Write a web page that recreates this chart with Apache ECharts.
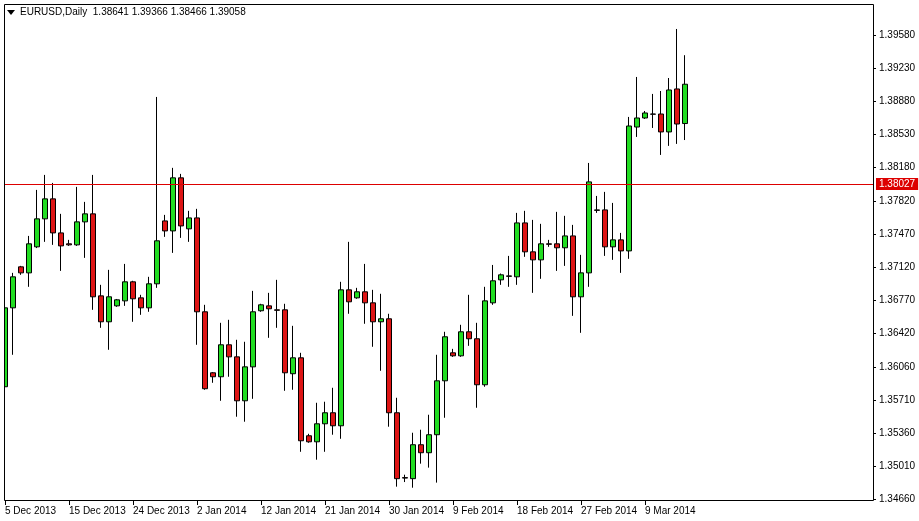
<!DOCTYPE html>
<html><head><meta charset="utf-8">
<script src="https://cdn.jsdelivr.net/npm/echarts@6/dist/echarts.min.js"></script>
<style>html,body{margin:0;padding:0;background:#fff}#c{width:919px;height:521px}</style>
</head><body><div id="c"></div>
<script>
// [open, close, low, high]
const candles = [
[1.35849,1.36686,1.35425,1.36750],[1.36686,1.37015,1.36188,1.37057],[1.37121,1.37057,1.37036,1.37131],[1.37057,1.37365,1.36909,1.37449],
[1.37333,1.37630,1.37320,1.37937],[1.37630,1.37842,1.37386,1.38096],[1.37842,1.37481,1.37354,1.38011],[1.37481,1.37343,1.37078,1.37683],
[1.37365,1.37354,1.37343,1.37407],[1.37354,1.37598,1.37343,1.37969],[1.37598,1.37683,1.37216,1.37810],[1.37683,1.36803,1.36665,1.38096],
[1.36813,1.36538,1.36474,1.36930],[1.36538,1.36803,1.36241,1.37089],[1.36707,1.36771,1.36697,1.36780],[1.36760,1.36962,1.36707,1.37152],
[1.36962,1.36782,1.36538,1.36973],[1.36792,1.36686,1.36612,1.36824],[1.36686,1.36941,1.36644,1.37015],[1.36941,1.37397,1.36898,1.38923],
[1.37608,1.37502,1.37439,1.37672],[1.37502,1.38065,1.37269,1.38171],[1.38065,1.37555,1.37428,1.38107],[1.37524,1.37640,1.37386,1.37715],
[1.37640,1.36644,1.36294,1.37736],[1.36644,1.35828,1.35817,1.36718],[1.35997,1.35955,1.35891,1.36005],[1.35955,1.36294,1.35700,1.36527],
[1.36294,1.36166,1.35955,1.36559],[1.36166,1.35700,1.35531,1.36347],[1.35700,1.36060,1.35478,1.36326],[1.36060,1.36644,1.35721,1.36866],
[1.36655,1.36718,1.36644,1.36729],[1.36707,1.36676,1.36368,1.36845],[1.36665,1.36660,1.36474,1.36983],[1.36665,1.35997,1.35806,1.36729],
[1.35987,1.36156,1.35817,1.36495],[1.36156,1.35276,1.35159,1.36209],[1.35329,1.35265,1.35255,1.35350],[1.35265,1.35456,1.35075,1.35679],
[1.35456,1.35573,1.35159,1.35690],[1.35573,1.35435,1.35340,1.35838],[1.35435,1.36877,1.35297,1.36962],[1.36877,1.36750,1.36623,1.37386],
[1.36792,1.36856,1.36782,1.36898],[1.36856,1.36739,1.36517,1.37152],[1.36739,1.36538,1.36273,1.36877],[1.36538,1.36570,1.36018,1.36835],
[1.36570,1.35573,1.35425,1.36623],[1.35573,1.34874,1.34789,1.35732],[1.34885,1.34880,1.34838,1.34916],[1.34874,1.35234,1.34778,1.35361],
[1.35234,1.35149,1.35033,1.35393],[1.35149,1.35340,1.34991,1.35552],[1.35340,1.35912,1.34832,1.36188],[1.35912,1.36379,1.35520,1.36432],
[1.36209,1.36177,1.36166,1.36251],[1.36177,1.36432,1.36166,1.36506],[1.36432,1.36358,1.36283,1.36824],[1.36358,1.35870,1.35626,1.36527],
[1.35870,1.36760,1.35849,1.36909],[1.36739,1.36973,1.36718,1.37141],[1.36983,1.37036,1.36930,1.37050],[1.37025,1.37020,1.36909,1.37237],
[1.37015,1.37587,1.36930,1.37693],[1.37587,1.37280,1.37227,1.37715],[1.37280,1.37195,1.36845,1.37619],[1.37195,1.37365,1.36994,1.37577],
[1.37365,1.37360,1.37333,1.37407],[1.37365,1.37323,1.37078,1.37704],[1.37323,1.37449,1.37131,1.37662],[1.37449,1.36803,1.36601,1.37566],
[1.36803,1.37057,1.36421,1.37248],[1.37057,1.38022,1.36909,1.38223],[1.37725,1.37720,1.37693,1.37873],[1.37725,1.37333,1.37237,1.37916],
[1.37333,1.37407,1.37195,1.37799],[1.37407,1.37290,1.37057,1.37481],[1.37290,1.38615,1.37206,1.38711],[1.38604,1.38700,1.38499,1.39135],
[1.38700,1.38753,1.38690,1.38774],[1.38742,1.38740,1.38594,1.38955],[1.38742,1.38552,1.38308,1.38986],[1.38552,1.38997,1.38404,1.39124],
[1.39008,1.38636,1.38425,1.39644],[1.38641,1.39058,1.38466,1.39366]
];
const dateTicks = ['5 Dec 2013','15 Dec 2013','24 Dec 2013','2 Jan 2014','12 Jan 2014','21 Jan 2014','30 Jan 2014','9 Feb 2014','18 Feb 2014','27 Feb 2014','9 Mar 2014'];
const priceTicks = [1.39580,1.39230,1.38880,1.38530,1.38180,1.37820,1.37470,1.37120,1.36770,1.36420,1.36060,1.35710,1.35360,1.35010,1.34660];
const levelLine = 1.38027;
const lastPrice = 1.39058;
const header = 'EURUSD,Daily  1.38641 1.39366 1.38466 1.39058';

const nSlots = 109;
const cats = Array.from({length:nSlots},(_,i)=>String(i));
const font = '"Liberation Sans", Arial, sans-serif';
const showTick = (i)=> i%8===0 && i/8 < dateTicks.length;
const chart = echarts.init(document.getElementById('c'));
chart.setOption({
  animation:false,
  grid:{left:1,right:46,top:4,bottom:20,outerBoundsMode:'none',containLabel:false},
  xAxis:{type:'category',data:cats,boundaryGap:true,
    axisLine:{show:false},
    axisTick:{show:true,interval:showTick,alignWithLabel:true,length:4,lineStyle:{color:'#000'}},
    axisLabel:{interval:showTick,align:'left',margin:5,color:'#000',fontSize:10,fontFamily:font,hideOverlap:false,
      formatter:(v,i)=>showTick(i)?dateTicks[i/8]:''},
    splitLine:{show:false}},
  yAxis:{type:'value',position:'right',min:1.34637,max:1.39909,scale:true,
    axisLine:{show:false},
    axisTick:{show:true,customValues:priceTicks,length:3,lineStyle:{color:'#000'}},
    axisLabel:{customValues:priceTicks,color:'#000',fontSize:10,fontFamily:font,margin:6,formatter:v=>v.toFixed(5)},
    splitLine:{show:false}},
  graphic:[
    {type:'rect',shape:{x:0,y:0,width:4,height:502},style:{fill:'#fff'},z:99,silent:true},
    {type:'rect',shape:{x:4.5,y:4.5,width:869,height:496},style:{fill:'none',stroke:'#000',lineWidth:1},z:100,silent:true},
    {type:'polygon',shape:{points:[[7,10],[15,10],[11,15]]},style:{fill:'#000'},z:101},
    {type:'text',x:20,y:7,style:{text:header,fill:'#000',font:'10px '+font},z:101}
  ],
  series:[{type:'candlestick',data:candles,barWidth:5,
    itemStyle:{color:'#22dd22',color0:'#dd1515',borderColor:'#000',borderColor0:'#000',borderWidth:1},
    markLine:{symbol:'none',silent:true,animation:false,data:[
      {yAxis:levelLine,lineStyle:{color:'#dd0000',width:1,type:'solid'},
        label:{position:'end',formatter:levelLine.toFixed(5),color:'#fff',backgroundColor:'#dd0000',padding:[1,3,1,3],fontSize:10,fontFamily:font,distance:3}},
      {yAxis:lastPrice,lineStyle:{opacity:0},
        label:{position:'end',formatter:lastPrice.toFixed(5),color:'#fff',backgroundColor:'#000',padding:[1,3,1,3],fontSize:10,fontFamily:font,distance:3}}
    ]}
  }]
});
</script></body></html>
